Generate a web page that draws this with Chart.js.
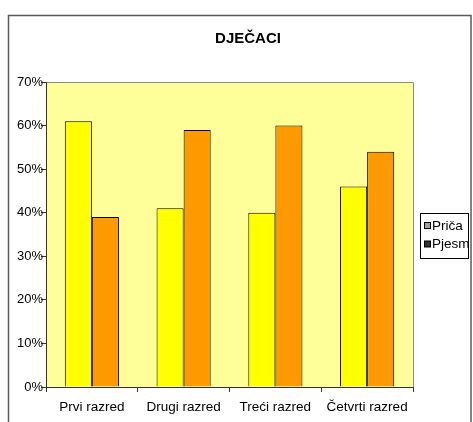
<!DOCTYPE html>
<html>
<head>
<meta charset="utf-8">
<script src="https://cdn.jsdelivr.net/npm/chart.js@4/dist/chart.umd.min.js"></script>
<style>
    html, body { margin: 0; padding: 0; background: #fff; }
    #wrap { width: 473px; height: 422px; }
</style>
</head>
<body>
<div id="wrap"><canvas id="djecaciChart"></canvas></div>
<script>
// podaci
const chartTitle = 'DJEČACI';
const categories = ['Prvi razred', 'Drugi razred', 'Treći razred', 'Četvrti razred'];
const seriesNames = ['Priča', 'Pjesma'];
const pricaValues = [61, 41, 40, 46];
const pjesmaValues = [39, 59, 60, 54];
const barColors = ['#FFFF00', '#FF9900'];
const legendSwatches = ['#a0a0a0', '#333333'];

// pozadina, okvir, naslov i legenda
const excelLook = {
    id: 'excelLook',
    beforeDraw(chart) {
        const { ctx, chartArea: a } = chart;
        ctx.save();
        ctx.fillStyle = '#fff';
        ctx.fillRect(0, 0, chart.width, chart.height);
        ctx.strokeStyle = '#5a5a5a';
        ctx.lineWidth = 1.5;
        ctx.strokeRect(8.5, 15.5, 462.5, 420);
        ctx.fillStyle = '#FFFF99';
        ctx.fillRect(a.left, a.top, a.right - a.left, a.bottom - a.top);
        ctx.strokeStyle = '#8a8a8a';
        ctx.lineWidth = 1;
        ctx.beginPath();
        ctx.moveTo(a.left, a.top + 0.5);
        ctx.lineTo(a.right + 0.5, a.top + 0.5);
        ctx.lineTo(a.right + 0.5, a.bottom);
        ctx.stroke();
        ctx.restore();
    },
    afterDraw(chart) {
        const { ctx } = chart;
        ctx.save();
        ctx.fillStyle = '#000';
        ctx.font = 'bold 15px "Liberation Sans", Arial, sans-serif';
        ctx.textAlign = 'center';
        ctx.textBaseline = 'middle';
        ctx.fillText(chartTitle, 248, 39);

        // legenda
        ctx.fillStyle = '#fff';
        ctx.fillRect(420.5, 213.5, 48, 45);
        ctx.strokeStyle = '#000';
        ctx.lineWidth = 1;
        ctx.strokeRect(420.5, 213.5, 48, 45);
        ctx.beginPath();
        ctx.rect(421, 214, 48, 44);
        ctx.clip();
        ctx.font = '13.5px "Liberation Sans", Arial, sans-serif';
        ctx.textAlign = 'left';
        chart.data.datasets.forEach((ds, i) => {
            const y = 226 + i * 18.5;
            ctx.fillStyle = legendSwatches[i];
            ctx.fillRect(424.5, y - 3.5, 6, 6);
            ctx.strokeStyle = '#000';
            ctx.strokeRect(424.5, y - 3.5, 6, 6);
            ctx.fillStyle = '#000';
            ctx.fillText(ds.label, 432, y);
        });
        ctx.restore();
    }
};

const ctx = document.getElementById('djecaciChart').getContext('2d');
new Chart(ctx, {
    type: 'bar',
    data: {
        labels: categories,
        datasets: [{
            label: seriesNames[0],
            data: pricaValues,
            backgroundColor: barColors[0],
            borderColor: '#000',
            borderWidth: 1
        }, {
            label: seriesNames[1],
            data: pjesmaValues,
            backgroundColor: barColors[1],
            borderColor: '#000',
            borderWidth: 1
        }]
    },
    options: {
        responsive: true,
        maintainAspectRatio: false,
        animation: false,
        layout: { padding: { top: 82, right: 60, bottom: 0, left: 0 } },
        datasets: { bar: { categoryPercentage: 0.59, barPercentage: 1 } },
        scales: {
            x: {
                afterFit: (s) => { s.height = 35; },
                grid: { offset: true, drawOnChartArea: false, tickLength: 5, color: '#333' },
                border: { color: '#333', width: 1 },
                ticks: {
                    color: '#000',
                    padding: 7,
                    font: { family: '"Liberation Sans", Arial, sans-serif', size: 13.5 }
                }
            },
            y: {
                min: 0,
                max: 70,
                afterFit: (s) => { s.width = 46; },
                grid: { drawOnChartArea: false, tickLength: 5, color: '#333' },
                border: { color: '#333', width: 1 },
                ticks: {
                    stepSize: 10,
                    color: '#000',
                    padding: -2,
                    font: { family: '"Liberation Sans", Arial, sans-serif', size: 13 },
                    callback: (v) => v + '%'
                }
            }
        },
        plugins: {
            legend: { display: false },
            title: { display: false },
            tooltip: { enabled: false }
        }
    },
    plugins: [excelLook]
});
</script>
</body>
</html>
